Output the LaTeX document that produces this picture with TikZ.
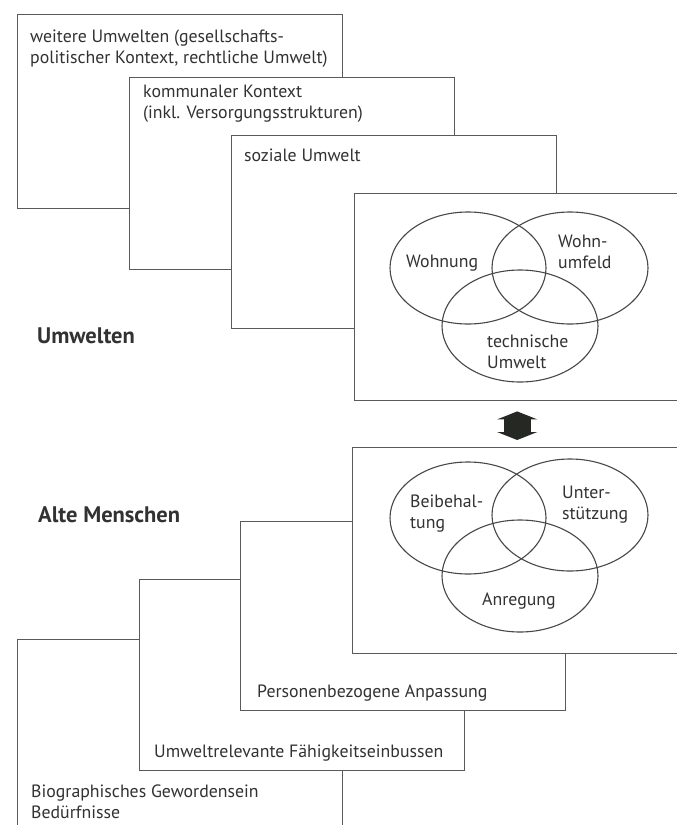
\documentclass[tikz,border=0pt]{standalone}
\usepackage{fontspec}
\setmainfont{PT Sans}
\usetikzlibrary{arrows.meta,positioning,shapes.geometric}
\definecolor{rule}{RGB}{90,90,90}
\definecolor{ink}{RGB}{50,50,50}
\definecolor{linkfill}{RGB}{38,40,36}

\begin{document}
\begin{tikzpicture}[
  x=1pt, y=-1pt,
  font=\fontsize{17.8}{20.5}\selectfont,
  panel/.style={draw=rule, line width=1.4pt, fill=white, anchor=north west,
    minimum width=325pt, inner sep=0pt},
  txt/.style={text=ink, align=left, inner sep=0pt, anchor=base west},
  blob/.style={draw=rule!80!black, line width=1.1pt, ellipse, inner sep=0pt,
    minimum width=156pt, minimum height=112pt},
  title/.style={txt, font=\bfseries\fontsize{22.5}{24}\selectfont},
  link/.style={draw=linkfill, line width=27pt,
    {Triangle[width=40pt, length=8pt, fill=linkfill]}-{Triangle[width=40pt, length=8pt, fill=linkfill]}}
]
\useasboundingbox (0,0) rectangle (677,825);
\clip (0,0) rectangle (677,825);

% Umwelten
\node[panel, minimum height=194pt] (u1) at (17,14) {};
\node[panel, minimum height=192pt] (u2) at (129,77) {};
\node[panel, minimum height=193pt] (u3) at (231,135) {};
\node[panel, minimum height=207pt] (u4) at (354,193) {};
\node[txt] (u1text) at (30,63)
  {weitere Umwelten (gesellschafts-\\politischer Kontext, rechtliche Umwelt)};
\node[txt] (u2text) at (143,118) {kommunaler Kontext\\(inkl. Versorgungsstrukturen)};
\node[txt] (u3text) at (244,161) {soziale Umwelt};
\node[blob] (wohnung) at (468,268) {};
\node[blob] (umfeld) at (570,268) {};
\node[blob] (technik) at (520,326) {};
\node[txt] (wohnungtext) at (406,267) {Wohnung};
\node[txt] (umfeldtext) at (558,268) {Wohn-\\umfeld};
\node[txt] (techniktext) at (487,368) {technische\\Umwelt};
\node[title] (umwelten) at (37,343) {Umwelten};

% Alte Menschen
\node[panel, minimum height=200pt] (l4) at (17,639) {};
\node[panel, minimum height=191pt] (l3) at (139,579) {};
\node[panel, minimum height=189pt] (l2) at (240,521) {};
\node[panel, minimum height=206pt] (l1) at (352,447) {};
\node[txt] (l4text) at (31,818) {Biographisches Gewordensein\\Bedürfnisse};
\node[txt] (l3text) at (154,757) {Umweltrelevante Fähigkeitseinbussen};
\node[txt] (l2text) at (257,697) {Personenbezogene Anpassung};
\node[blob] (beibehaltung) at (468,518) {};
\node[blob] (unterstuetzung) at (570,515) {};
\node[blob] (anregung) at (520,576) {};
\node[txt] (beibehaltungtext) at (410,528) {Beibehal-\\tung};
\node[txt] (unterstuetzungtext) at (562,519) {Unter-\\stützung};
\node[txt] (anregungtext) at (482,605) {Anregung};
\node[title] (menschen) at (38,522) {Alte Menschen};

\draw[link, shorten <=10pt, shorten >=7pt] (u4.south) -- (u4.south |- l1.north);
\end{tikzpicture}
\end{document}
